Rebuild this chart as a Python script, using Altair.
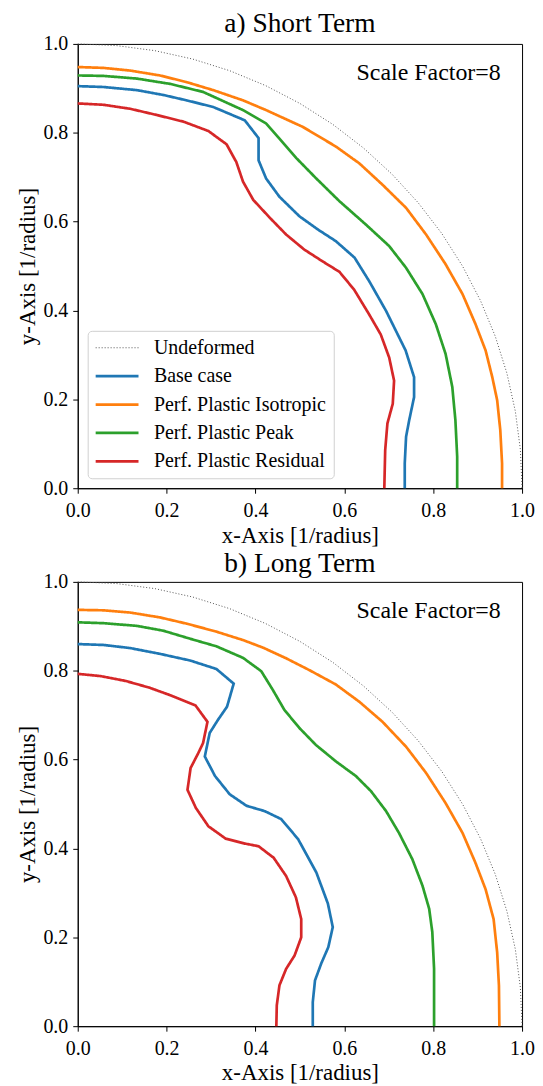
import altair as alt
import pandas as pd

SERIES = ["Undeformed", "Base case", "Perf. Plastic Isotropic",
          "Perf. Plastic Peak", "Perf. Plastic Residual"]
COLORS = ["#555555", "#1f77b4", "#ff7f0e", "#2ca02c", "#d62728"]
DASHES = [[1, 2], [1, 0], [1, 0], [1, 0], [1, 0]]

# Undeformed opening (unit quarter circle)
undeformed_x = [0.0, 0.0872, 0.1736, 0.2588, 0.3420, 0.4226, 0.5000, 0.5736, 0.6428, 0.7071,
                0.7660, 0.8192, 0.8660, 0.9063, 0.9397, 0.9659, 0.9848, 0.9962, 1.0]
undeformed_y = [1.0, 0.9962, 0.9848, 0.9659, 0.9397, 0.9063, 0.8660, 0.8192, 0.7660, 0.7071,
                0.6428, 0.5736, 0.5000, 0.4226, 0.3420, 0.2588, 0.1736, 0.0872, 0.0]

# a) Short Term
short_base_x = [0.0, 0.058, 0.133, 0.193, 0.245, 0.305, 0.376, 0.407, 0.407, 0.424, 0.454, 0.499,
                0.541, 0.581, 0.623, 0.656, 0.694, 0.738, 0.757, 0.757, 0.746, 0.739, 0.736, 0.736]
short_base_y = [0.905, 0.903, 0.896, 0.885, 0.873, 0.858, 0.828, 0.788, 0.738, 0.697, 0.656, 0.612,
                0.582, 0.556, 0.519, 0.466, 0.399, 0.310, 0.250, 0.205, 0.153, 0.116, 0.056, 0.0]
short_iso_x = [0.0, 0.058, 0.118, 0.185, 0.245, 0.305, 0.372, 0.424, 0.507, 0.581, 0.634, 0.686,
               0.739, 0.784, 0.828, 0.866, 0.895, 0.918, 0.933, 0.944, 0.951, 0.955, 0.955]
short_iso_y = [0.948, 0.946, 0.940, 0.929, 0.914, 0.896, 0.873, 0.851, 0.813, 0.769, 0.731, 0.683,
               0.631, 0.571, 0.504, 0.437, 0.370, 0.310, 0.250, 0.198, 0.131, 0.056, 0.0]
short_peak_x = [0.0, 0.058, 0.133, 0.208, 0.282, 0.372, 0.424, 0.454, 0.492, 0.536, 0.589, 0.649,
                0.701, 0.739, 0.776, 0.806, 0.828, 0.843, 0.850, 0.854, 0.854]
short_peak_y = [0.929, 0.928, 0.922, 0.910, 0.892, 0.851, 0.821, 0.787, 0.743, 0.698, 0.646, 0.593,
                0.545, 0.496, 0.437, 0.369, 0.302, 0.228, 0.153, 0.071, 0.0]
short_res_x = [0.0, 0.058, 0.118, 0.178, 0.238, 0.294, 0.335, 0.357, 0.372, 0.395, 0.433, 0.469,
               0.510, 0.552, 0.589, 0.622, 0.656, 0.682, 0.701, 0.712, 0.709, 0.697, 0.692, 0.690]
short_res_y = [0.866, 0.863, 0.854, 0.840, 0.825, 0.804, 0.774, 0.734, 0.690, 0.649, 0.608, 0.571,
               0.537, 0.510, 0.487, 0.447, 0.391, 0.346, 0.294, 0.242, 0.190, 0.146, 0.086, 0.0]

# b) Long Term
long_base_x = [0.0, 0.058, 0.118, 0.185, 0.253, 0.312, 0.351, 0.336, 0.316, 0.297, 0.286, 0.309,
               0.342, 0.380, 0.421, 0.458, 0.496, 0.537, 0.563, 0.574, 0.564, 0.548, 0.534, 0.529, 0.529]
long_base_y = [0.860, 0.858, 0.851, 0.838, 0.823, 0.804, 0.771, 0.719, 0.690, 0.660, 0.607, 0.563,
               0.522, 0.496, 0.484, 0.466, 0.421, 0.346, 0.276, 0.223, 0.178, 0.141, 0.103, 0.054, 0.0]
long_iso_x = [0.0, 0.058, 0.118, 0.185, 0.245, 0.312, 0.372, 0.417, 0.469, 0.522, 0.581, 0.634,
              0.686, 0.739, 0.784, 0.828, 0.866, 0.895, 0.918, 0.936, 0.944, 0.948, 0.949]
long_iso_y = [0.937, 0.936, 0.931, 0.920, 0.906, 0.888, 0.869, 0.852, 0.828, 0.801, 0.769, 0.730,
              0.685, 0.629, 0.570, 0.502, 0.435, 0.368, 0.308, 0.241, 0.166, 0.091, 0.0]
long_peak_x = [0.0, 0.058, 0.133, 0.193, 0.253, 0.312, 0.372, 0.413, 0.439, 0.465, 0.499, 0.536,
               0.581, 0.626, 0.660, 0.694, 0.723, 0.753, 0.776, 0.791, 0.798, 0.802, 0.802]
long_peak_y = [0.909, 0.907, 0.901, 0.890, 0.872, 0.855, 0.829, 0.799, 0.757, 0.712, 0.671, 0.633,
               0.596, 0.563, 0.529, 0.484, 0.435, 0.376, 0.316, 0.264, 0.212, 0.129, 0.0]
long_res_x = [0.0, 0.051, 0.108, 0.161, 0.208, 0.265, 0.292, 0.282, 0.271, 0.254, 0.247, 0.266,
              0.294, 0.333, 0.376, 0.407, 0.441, 0.469, 0.491, 0.503, 0.503, 0.488, 0.469, 0.454,
              0.448, 0.447]
long_res_y = [0.793, 0.788, 0.777, 0.762, 0.745, 0.722, 0.685, 0.637, 0.614, 0.581, 0.532, 0.491,
              0.450, 0.422, 0.411, 0.405, 0.379, 0.338, 0.290, 0.241, 0.200, 0.159, 0.129, 0.092,
              0.047, 0.0]

TICKS = [0.0, 0.2, 0.4, 0.6, 0.8, 1.0]
NOTE_TEXT = ["Scale Factor=8"]
NOTE_X = [0.952]
NOTE_Y = [0.918]
FONT = "Liberation Serif"


def build(curves):
    rows = []
    for name, xs, ys in curves:
        for i, (xv, yv) in enumerate(zip(xs, ys)):
            rows.append({"series": name, "x": xv, "y": yv, "idx": i})
    return pd.DataFrame(rows)


short_curves = [
    ("Base case", short_base_x, short_base_y),
    ("Perf. Plastic Isotropic", short_iso_x, short_iso_y),
    ("Perf. Plastic Peak", short_peak_x, short_peak_y),
    ("Perf. Plastic Residual", short_res_x, short_res_y),
]
long_curves = [
    ("Base case", long_base_x, long_base_y),
    ("Perf. Plastic Isotropic", long_iso_x, long_iso_y),
    ("Perf. Plastic Peak", long_peak_x, long_peak_y),
    ("Perf. Plastic Residual", long_res_x, long_res_y),
]
undeformed_df = build([("Undeformed", undeformed_x, undeformed_y)])
note_df = pd.DataFrame({"x": NOTE_X, "y": NOTE_Y, "label": NOTE_TEXT})


def panel(curves, title, show_legend, title_offset):
    if show_legend:
        leg = alt.Legend(
            title=None, orient="none", legendX=10, legendY=288,
            symbolType="M-2.15,0H2.15", symbolSize=400,
            symbolStrokeWidth=alt.ExprRef(expr="datum.value === 'Undeformed' ? 1 : 2.7"),
            symbolOffset=12.5, labelOffset=27, labelLimit=400,
            labelFont=FONT, labelFontSize=20, labelColor="black",
            rowPadding=8.5, padding=7, fillColor="white",
            strokeColor="#d0d0d0", cornerRadius=4,
        )
    else:
        leg = None
    xenc = alt.X("x:Q", scale=alt.Scale(domain=[0, 1], nice=False),
                 axis=alt.Axis(title="x-Axis [1/radius]", values=TICKS, format=".1f",
                               labelFlush=False))
    yenc = alt.Y("y:Q", scale=alt.Scale(domain=[0, 1], nice=False),
                 axis=alt.Axis(title="y-Axis [1/radius]", values=TICKS, format=".1f",
                               labelFlush=False))
    color = alt.Color("series:N", scale=alt.Scale(domain=SERIES, range=COLORS), legend=leg)
    dash = alt.StrokeDash("series:N", scale=alt.Scale(domain=SERIES, range=DASHES), legend=leg)

    und = alt.Chart(undeformed_df).mark_line(strokeWidth=1).encode(
        x=xenc, y=yenc, color=color, strokeDash=dash, order="idx:Q")
    lines = alt.Chart(build(curves)).mark_line(strokeWidth=2.7).encode(
        x=xenc, y=yenc, color=color, strokeDash=dash, order="idx:Q")
    note = alt.Chart(note_df).mark_text(align="right", baseline="alphabetic", font=FONT,
                                        fontSize=24, color="black").encode(
        x="x:Q", y="y:Q", text="label:N")
    return alt.layer(und, lines, note).properties(
        width=446, height=446,
        title=alt.TitleParams(title, font=FONT, fontSize=27.5, fontWeight="normal",
                              color="black", offset=title_offset),
    )


top = panel(short_curves, "a) Short Term", True, -4)
bottom = panel(long_curves, "b) Long Term", False, -6)

chart = alt.vconcat(top, bottom, spacing=2).resolve_scale(
    color="independent", strokeDash="independent"
).properties(padding={"left": 8, "top": 0, "right": 0, "bottom": 0}).configure_view(
    stroke="black", strokeWidth=1
).configure_axis(
    grid=False, domain=True, domainColor="black", tickColor="black", tickSize=5,
    labelFont=FONT, labelFontSize=20, labelColor="black",
    titleFont=FONT, titleFontSize=23, titleFontWeight="normal", titleColor="black",
).configure_axisX(
    labelPadding=7, titlePadding=4
).configure_axisY(
    labelPadding=5, titlePadding=3
)

chart.save("out.html", embed_options={"renderer": "svg", "actions": False})
